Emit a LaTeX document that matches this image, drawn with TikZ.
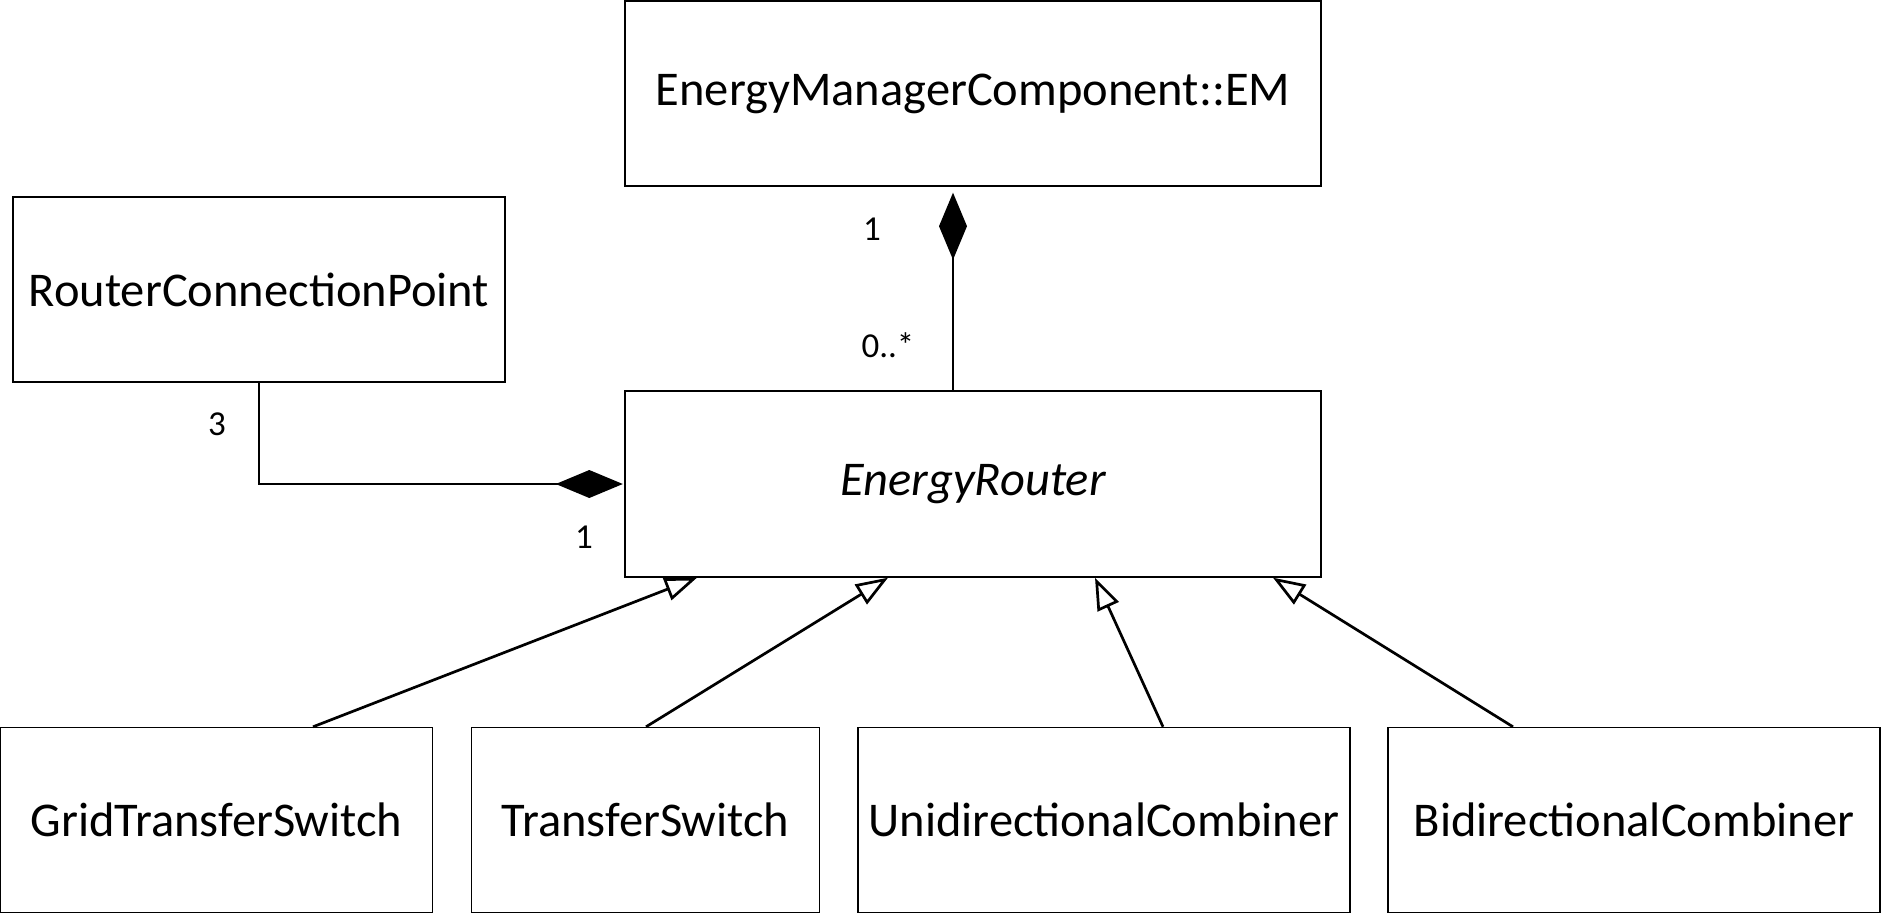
\documentclass[tikz,border=0pt]{standalone}
\usepackage{fontspec}
\setmainfont{Carlito}
\usetikzlibrary{arrows.meta,calc}
\begin{document}
\begin{tikzpicture}[x=1pt,y=-1pt,
  classbox/.style={draw=black,line width=1.4pt,rectangle,inner sep=0pt,
    minimum height=185pt,font=\fontsize{48.5}{58}\selectfont},
  mult/.style={font=\fontsize{35}{42}\selectfont,inner sep=0pt,anchor=base},
  comp/.style={line width=2.7pt,{Diamond[length=67pt,width=28pt]}-},
  gen/.style={line width=2.7pt,-{Triangle[length=32pt,width=23pt,fill=white]}}
]
\fill[white] (0,0) rectangle (1881,914);
\useasboundingbox (0,0) rectangle (1881,914);

% classes
\node[classbox,minimum width=696pt] (em) at (973,93.5) {EnergyManagerComponent::EM};
\node[classbox,minimum width=492pt] (rcp) at (259,289.5) {RouterConnectionPoint};
\node[classbox,minimum width=696pt,minimum height=186pt,
      font=\fontsize{48.5}{58}\selectfont\itshape] (er) at (973,484) {EnergyRouter};
\node[classbox,minimum width=432pt] (gts) at (216.5,820) {GridTransferSwitch};
\node[classbox,minimum width=348pt] (ts) at (645.5,820) {TransferSwitch};
\node[classbox,minimum width=492pt] (uc) at (1104,820) {UnidirectionalCombiner};
\node[classbox,minimum width=492pt] (bc) at (1634,820) {BidirectionalCombiner};

% compositions
\coordinate (erTop) at ([xshift=-20pt]er.north);
\draw[comp,shorten <=6pt] (em.south -| erTop) -- (erTop);
\draw[comp,shorten <=1.5pt] (er.west) -| (rcp.south);

% generalizations
\draw[gen] ([xshift=96.5pt]gts.north) -- ([xshift=-276pt]er.south);
\draw[gen] ([xshift=0.5pt]ts.north) -- ([xshift=-85pt]er.south);
\draw[gen] ([xshift=59pt]uc.north) -- ([xshift=122pt]er.south);
\draw[gen] ([xshift=-121pt]bc.north) -- ([xshift=300pt]er.south);

% multiplicities
\node[mult] (m1) at (872,240) {1};
\node[mult] (m2) at (888,357) {0..*};
\node[mult] (m3) at (217,435) {3};
\node[mult] (m4) at (584,548) {1};
\end{tikzpicture}
\end{document}
